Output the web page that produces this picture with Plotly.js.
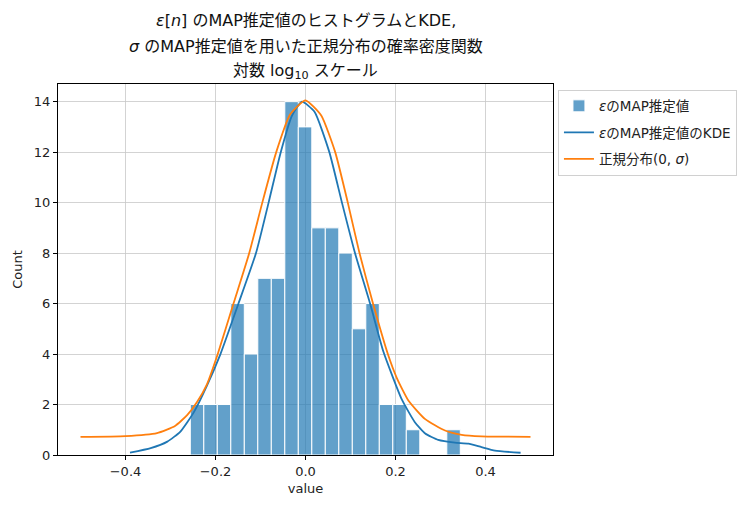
<!DOCTYPE html>
<html>
<head>
<meta charset="utf-8">
<script src="https://cdn.plot.ly/plotly-3.0.1.min.js"></script>
<style>
  body { margin: 0; background: #fff; }
  #chart { width: 753px; height: 507px; }
</style>
</head>
<body>
<div id="chart"></div>
<script>
// histogram of the MAP residuals (bin left edges, width 0.03)
const binEdges = [-0.256, -0.226, -0.196, -0.166, -0.136, -0.106, -0.076, -0.046, -0.016, 0.014,
                  0.044, 0.074, 0.104, 0.134, 0.164, 0.194, 0.224, 0.254, 0.284, 0.314]
const binWidth = 0.03
const counts = [2, 2, 2, 6, 4, 7, 7, 14, 13, 9, 9, 8, 5, 6, 2, 2, 1, 0, 0, 1]

// KDE curve
const kdeX = [-0.39, -0.344, -0.307, -0.278, -0.248, -0.219, -0.189, -0.149, -0.11,
              -0.082, -0.055, -0.03, -0.008, 0.02, 0.053, 0.081, 0.11, 0.1435, 0.173,
              0.214, 0.243, 0.266, 0.295, 0.332, 0.362, 0.391, 0.421, 0.478]
const kdeY = [0.09, 0.27, 0.53, 0.93, 1.7, 2.75, 4.0, 6.0, 8.0,
              10.0, 12.0, 13.45, 14.0, 13.6, 12.0, 10.0, 8.0, 6.0, 4.1,
              2.2, 1.3, 0.85, 0.6, 0.49, 0.45, 0.31, 0.17, 0.09]

// normal pdf curve (0, sigma)
const normX = [-0.50, -0.40, -0.33, -0.29, -0.263, -0.241, -0.219, -0.195, -0.16, -0.125,
               -0.096, -0.065, -0.034, 0.0, 0.035, 0.066, 0.094, 0.12, 0.15, 0.183,
               0.203, 0.229, 0.266, 0.31, 0.347, 0.391, 0.50]
const normY = [0.72, 0.75, 0.87, 1.15, 1.58, 2.1, 2.8, 4.0, 6.0, 8.0,
               10.0, 12.0, 13.5, 14.05, 13.45, 12.0, 10.0, 8.0, 6.0, 4.0,
               3.05, 2.15, 1.42, 0.97, 0.8, 0.74, 0.72]

// title lines
const titleLines = [
  '<i>ε</i>[<i>n</i>] のMAP推定値のヒストグラムとKDE,',
  '<i>σ</i> のMAP推定値を用いた正規分布の確率密度関数',
  '対数 log<sub>10</sub> スケール'
]

const FONT = '"DejaVu Sans", "Noto Sans CJK JP", sans-serif'

let binCenters = binEdges.map(e => e + binWidth / 2)

let data = [
  {
    type: 'bar',
    name: '<i>ε</i>のMAP推定値',
    legendgroup: 'hist',
    x: binCenters,
    y: counts,
    width: binWidth,
    marker: {color: 'rgba(31,119,180,0.7)', line: {color: '#ffffff', width: 1}}
  },
  {
    type: 'scatter',
    mode: 'lines',
    name: '<i>ε</i>のMAP推定値のKDE',
    legendgroup: 'kde',
    x: kdeX,
    y: kdeY,
    line: {color: '#1f77b4', width: 1.8, shape: 'spline', smoothing: 0.5}
  },
  {
    type: 'scatter',
    mode: 'lines',
    name: '正規分布(0, <i>σ</i>)',
    legendgroup: 'norm',
    x: normX,
    y: normY,
    line: {color: '#ff7f0e', width: 1.8, shape: 'spline', smoothing: 0.5}
  }
]

let axisCommon = {
  showline: true,
  linecolor: '#000',
  linewidth: 1,
  mirror: true,
  ticks: 'outside',
  ticklen: 4,
  tickcolor: '#000',
  showgrid: true,
  gridcolor: '#c8c8c8',
  gridwidth: 0.8,
  zeroline: false,
  tickfont: {family: FONT, size: 13, color: '#222'}
}

// title as three annotations so the line spacing matches
let titleY = [1.1725, 1.1024, 1.035]
let annotations = titleLines.map((t, i) => ({
  text: t,
  xref: 'paper', yref: 'paper',
  x: 0.5, y: titleY[i],
  xanchor: 'center', yanchor: 'middle',
  showarrow: false,
  font: {family: FONT, size: 16, color: '#111'}
}))

let layout = {
  width: 753,
  height: 507,
  paper_bgcolor: '#fff',
  plot_bgcolor: '#fff',
  margin: {l: 58, r: 200, t: 84, b: 52},
  font: {family: FONT, size: 13, color: '#222'},
  bargap: 0,
  annotations: annotations,
  xaxis: Object.assign({}, axisCommon, {
    range: [-0.55, 0.55],
    tickvals: [-0.4, -0.2, 0.0, 0.2, 0.4],
    tickformat: '.1f',
    title: {text: 'value', font: {family: FONT, size: 13, color: '#222'}, standoff: 6}
  }),
  yaxis: Object.assign({}, axisCommon, {
    range: [0, 14.7],
    dtick: 2,
    title: {text: 'Count', font: {family: FONT, size: 13, color: '#222'}, standoff: 8}
  }),
  legend: {
    x: 1.01,
    xanchor: 'left',
    y: 0.985,
    yanchor: 'top',
    bordercolor: '#d0d0d0',
    borderwidth: 1,
    bgcolor: '#fff',
    font: {family: FONT, size: 13.5, color: '#222'},
    tracegroupgap: 6
  },
  showlegend: true
}

Plotly.newPlot('chart', data, layout, {displayModeBar: false, staticPlot: true})
</script>
</body>
</html>
